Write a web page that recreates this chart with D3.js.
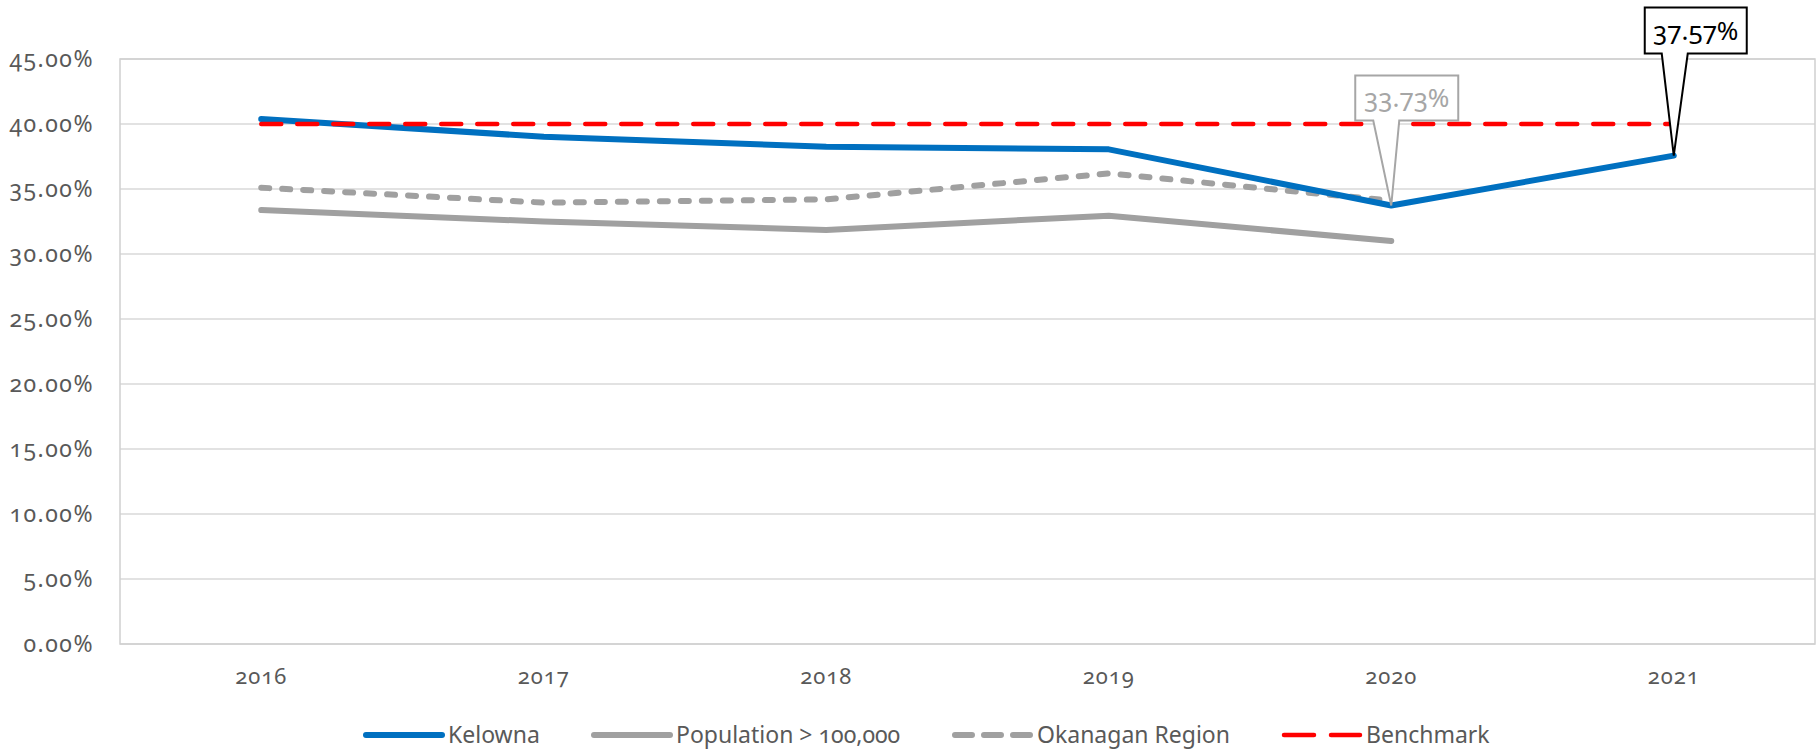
<!DOCTYPE html>
<html>
<head>
<meta charset="utf-8">
<script src="https://cdn.jsdelivr.net/npm/d3@7"></script>
<style>
  body { margin: 0; background: #fff; }
  svg text { font-family: "Noto Sans", "Open Sans", sans-serif; font-variant-numeric: oldstyle-nums; }
</style>
</head>
<body>
<div id="chart"></div>
<script>
// Data
const years = ["2016", "2017", "2018", "2019", "2020", "2021"];
const kelowna = [0.4038, 0.3902, 0.3825, 0.3805, 0.3373, 0.3757];
const population100k = [0.3338, 0.3250, 0.3185, 0.3295, 0.3100, null];
const okanagan = [0.3510, 0.3395, 0.3420, 0.3620, 0.3410, null];
const benchmark = [0.40, 0.40, 0.40, 0.40, 0.40, 0.40];
const yTicks = [0, 0.05, 0.10, 0.15, 0.20, 0.25, 0.30, 0.35, 0.40, 0.45];

const width = 1818;
const height = 751;
const margin = { left: 120, right: 3, top: 59, bottom: 107 };

const svg = d3.select("#chart")
    .append("svg")
    .attr("width", width)
    .attr("height", height);

const x = d3.scaleBand()
    .domain(years)
    .range([margin.left, width - margin.right])
    .padding(0);

const y = d3.scaleLinear()
    .domain([0, 0.45])
    .range([height - margin.bottom, margin.top]);

const cx = d => x(d) + x.bandwidth() / 2;

// Gridlines
svg.append("g")
    .selectAll("line")
    .data(yTicks)
    .enter()
    .append("line")
    .attr("x1", margin.left)
    .attr("x2", width - margin.right)
    .attr("y1", d => y(d))
    .attr("y2", d => y(d))
    .attr("stroke", "#d9d9d9")
    .attr("stroke-width", 1.5);

// Plot area border
svg.append("rect")
    .attr("x", margin.left)
    .attr("y", margin.top)
    .attr("width", width - margin.right - margin.left)
    .attr("height", y(0) - margin.top)
    .attr("fill", "none")
    .attr("stroke", "#cfcfcf")
    .attr("stroke-width", 1.5);

// Y axis labels
const yAxis = d3.axisLeft(y)
    .tickValues(yTicks)
    .tickFormat(d3.format(".2%"))
    .tickSize(0)
    .tickPadding(26);
const gy = svg.append("g")
    .attr("transform", `translate(${margin.left},0)`)
    .call(yAxis);
gy.select(".domain").remove();
gy.selectAll("text")
    .attr("font-size", 23)
    .attr("letter-spacing", 1.5)
    .attr("fill", "#595959");

// X axis labels
const xAxis = d3.axisBottom(x).tickSize(0).tickPadding(24);
const gx = svg.append("g")
    .attr("transform", `translate(0,${y(0)})`)
    .call(xAxis);
gx.select(".domain").remove();
gx.selectAll("text")
    .attr("font-size", 22)
    .attr("letter-spacing", 1)
    .attr("fill", "#595959");

const series = [
    { name: "Kelowna", values: kelowna, color: "#0070c0", width: 6, dash: null, legendDash: null },
    { name: "Population > 100,000", values: population100k, color: "#a0a0a0", width: 6, dash: null, legendDash: null },
    { name: "Okanagan Region", values: okanagan, color: "#a0a0a0", width: 6, dash: "8,13", legendDash: "17,12" },
    { name: "Benchmark", values: benchmark, color: "#ff0000", width: 4.5, dash: "20,16", legendDash: "30,17" }
];

const line = d3.line()
    .defined(d => d.v !== null)
    .x(d => cx(d.year))
    .y(d => y(d.v));

// Draw order: greys first, then Kelowna, benchmark on top
const drawOrder = [series[1], series[2], series[0], series[3]];
drawOrder.forEach(s => {
    const pts = years.map((yr, i) => ({ year: yr, v: s.values[i] }));
    svg.append("path")
        .datum(pts)
        .attr("d", line)
        .attr("fill", "none")
        .attr("stroke", s.color)
        .attr("stroke-width", s.width)
        .attr("stroke-linecap", "round")
        .attr("stroke-linejoin", "round")
        .attr("stroke-dasharray", s.dash);
});

// Callouts on Kelowna
const callouts = [
    { year: "2020", value: kelowna[4], color: "#a6a6a6", text: "#a6a6a6", box: [-36, 67, -130, -85], base: [-18, 8] },
    { year: "2021", value: kelowna[5], color: "#000000", text: "#000000", box: [-29, 73, -148, -102], base: [-12, 14] }
];
callouts.forEach(c => {
    const px = cx(c.year), py = y(c.value);
    const [l, r, t, b] = c.box;
    const p = d3.path();
    p.moveTo(px + l, py + t);
    p.lineTo(px + r, py + t);
    p.lineTo(px + r, py + b);
    p.lineTo(px + c.base[1], py + b);
    p.lineTo(px, py);
    p.lineTo(px + c.base[0], py + b);
    p.lineTo(px + l, py + b);
    p.closePath();
    svg.append("path")
        .attr("d", p.toString())
        .attr("fill", "#fff")
        .attr("stroke", c.color)
        .attr("stroke-width", 2);
    svg.append("text")
        .attr("x", px + (l + r) / 2)
        .attr("y", py + (t + b) / 2 + 9)
        .attr("text-anchor", "middle")
        .attr("font-size", 26)
        .attr("fill", c.text)
        .text(d3.format(".2%")(c.value));
});

// Legend
const legendX = [363, 591, 952, 1281];
const legendY = 735;
series.forEach((s, i) => {
    const g = svg.append("g").attr("transform", `translate(${legendX[i]},${legendY})`);
    g.append("line")
        .attr("x1", 3).attr("x2", 79)
        .attr("y1", 0).attr("y2", 0)
        .attr("stroke", s.color)
        .attr("stroke-width", s.width)
        .attr("stroke-linecap", "round")
        .attr("stroke-dasharray", s.legendDash);
    g.append("text")
        .attr("x", 85)
        .attr("y", 8)
        .attr("font-size", 23)
        .attr("fill", "#595959")
        .text(s.name);
});
</script>
</body>
</html>
